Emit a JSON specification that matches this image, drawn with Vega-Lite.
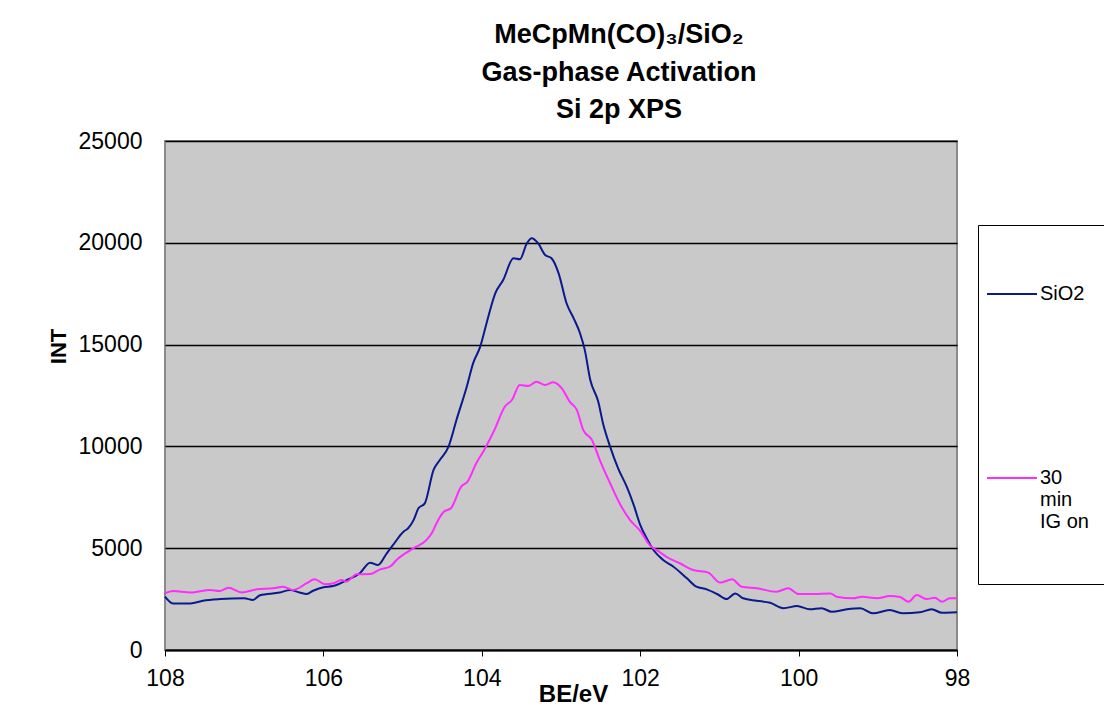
{
  "$schema": "https://vega.github.io/schema/vega-lite/v6.json",
  "width": 792,
  "height": 509,
  "autosize": "none",
  "padding": {"left": 165, "top": 141, "right": 147, "bottom": 57},
  "background": "white",
  "config": {
    "font": "Liberation Sans",
    "view": {"fill": "#c9c9c9", "stroke": "#8a8a8a", "strokeWidth": 2}
  },
  "title": {
    "text": ["MeCpMn(CO)₃/SiO₂", "Gas-phase Activation", "Si 2p XPS"],
    "font": "Liberation Sans",
    "fontSize": 27,
    "fontWeight": "bold",
    "color": "black",
    "lineHeight": 37.5,
    "anchor": "middle",
    "frame": "group",
    "dx": 58,
    "offset": 6
  },
  "data": {
    "values": [
      {"series": "SiO2", "BE": 108.0, "INT": 2620},
      {"series": "SiO2", "BE": 107.9, "INT": 2290},
      {"series": "SiO2", "BE": 107.68, "INT": 2290},
      {"series": "SiO2", "BE": 107.52, "INT": 2420},
      {"series": "SiO2", "BE": 107.3, "INT": 2500},
      {"series": "SiO2", "BE": 107.0, "INT": 2540},
      {"series": "SiO2", "BE": 106.89, "INT": 2460},
      {"series": "SiO2", "BE": 106.8, "INT": 2690},
      {"series": "SiO2", "BE": 106.55, "INT": 2820},
      {"series": "SiO2", "BE": 106.42, "INT": 2950},
      {"series": "SiO2", "BE": 106.3, "INT": 2820},
      {"series": "SiO2", "BE": 106.21, "INT": 2750},
      {"series": "SiO2", "BE": 106.13, "INT": 2910},
      {"series": "SiO2", "BE": 106.0, "INT": 3080},
      {"series": "SiO2", "BE": 105.88, "INT": 3140},
      {"series": "SiO2", "BE": 105.7, "INT": 3440},
      {"series": "SiO2", "BE": 105.54, "INT": 3770},
      {"series": "SiO2", "BE": 105.41, "INT": 4290},
      {"series": "SiO2", "BE": 105.31, "INT": 4175},
      {"series": "SiO2", "BE": 105.2, "INT": 4750},
      {"series": "SiO2", "BE": 105.12, "INT": 5160},
      {"series": "SiO2", "BE": 104.99, "INT": 5810},
      {"series": "SiO2", "BE": 104.93, "INT": 5980},
      {"series": "SiO2", "BE": 104.86, "INT": 6390},
      {"series": "SiO2", "BE": 104.8, "INT": 6960},
      {"series": "SiO2", "BE": 104.72, "INT": 7200},
      {"series": "SiO2", "BE": 104.61, "INT": 8840},
      {"series": "SiO2", "BE": 104.53, "INT": 9330},
      {"series": "SiO2", "BE": 104.42, "INT": 9990},
      {"series": "SiO2", "BE": 104.32, "INT": 11300},
      {"series": "SiO2", "BE": 104.19, "INT": 12930},
      {"series": "SiO2", "BE": 104.11, "INT": 14080},
      {"series": "SiO2", "BE": 104.02, "INT": 14900},
      {"series": "SiO2", "BE": 103.94, "INT": 16050},
      {"series": "SiO2", "BE": 103.83, "INT": 17520},
      {"series": "SiO2", "BE": 103.73, "INT": 18170},
      {"series": "SiO2", "BE": 103.6, "INT": 19240},
      {"series": "SiO2", "BE": 103.52, "INT": 19190},
      {"series": "SiO2", "BE": 103.43, "INT": 19980},
      {"series": "SiO2", "BE": 103.37, "INT": 20220},
      {"series": "SiO2", "BE": 103.29, "INT": 19980},
      {"series": "SiO2", "BE": 103.2, "INT": 19400},
      {"series": "SiO2", "BE": 103.12, "INT": 19240},
      {"series": "SiO2", "BE": 103.03, "INT": 18500},
      {"series": "SiO2", "BE": 102.93, "INT": 17030},
      {"series": "SiO2", "BE": 102.84, "INT": 16290},
      {"series": "SiO2", "BE": 102.76, "INT": 15560},
      {"series": "SiO2", "BE": 102.7, "INT": 14740},
      {"series": "SiO2", "BE": 102.63, "INT": 13260},
      {"series": "SiO2", "BE": 102.53, "INT": 12200},
      {"series": "SiO2", "BE": 102.47, "INT": 11140},
      {"series": "SiO2", "BE": 102.38, "INT": 9990},
      {"series": "SiO2", "BE": 102.28, "INT": 8930},
      {"series": "SiO2", "BE": 102.17, "INT": 8020},
      {"series": "SiO2", "BE": 102.08, "INT": 7100},
      {"series": "SiO2", "BE": 102.0, "INT": 6150},
      {"series": "SiO2", "BE": 101.92, "INT": 5500},
      {"series": "SiO2", "BE": 101.83, "INT": 4900},
      {"series": "SiO2", "BE": 101.71, "INT": 4420},
      {"series": "SiO2", "BE": 101.58, "INT": 4090},
      {"series": "SiO2", "BE": 101.41, "INT": 3520},
      {"series": "SiO2", "BE": 101.29, "INT": 3110},
      {"series": "SiO2", "BE": 101.16, "INT": 2980},
      {"series": "SiO2", "BE": 101.03, "INT": 2750},
      {"series": "SiO2", "BE": 100.91, "INT": 2500},
      {"series": "SiO2", "BE": 100.8, "INT": 2780},
      {"series": "SiO2", "BE": 100.7, "INT": 2540},
      {"series": "SiO2", "BE": 100.53, "INT": 2420},
      {"series": "SiO2", "BE": 100.36, "INT": 2320},
      {"series": "SiO2", "BE": 100.19, "INT": 2050},
      {"series": "SiO2", "BE": 100.02, "INT": 2160},
      {"series": "SiO2", "BE": 99.86, "INT": 2000},
      {"series": "SiO2", "BE": 99.71, "INT": 2050},
      {"series": "SiO2", "BE": 99.58, "INT": 1880},
      {"series": "SiO2", "BE": 99.39, "INT": 2000},
      {"series": "SiO2", "BE": 99.22, "INT": 2050},
      {"series": "SiO2", "BE": 99.06, "INT": 1800},
      {"series": "SiO2", "BE": 98.85, "INT": 1960},
      {"series": "SiO2", "BE": 98.68, "INT": 1800},
      {"series": "SiO2", "BE": 98.47, "INT": 1850},
      {"series": "SiO2", "BE": 98.32, "INT": 2000},
      {"series": "SiO2", "BE": 98.19, "INT": 1830},
      {"series": "SiO2", "BE": 98.0, "INT": 1850},
      {"series": "30 min IG on", "BE": 108.0, "INT": 2780},
      {"series": "30 min IG on", "BE": 107.9, "INT": 2900},
      {"series": "30 min IG on", "BE": 107.68, "INT": 2830},
      {"series": "30 min IG on", "BE": 107.43, "INT": 2950},
      {"series": "30 min IG on", "BE": 107.31, "INT": 2900},
      {"series": "30 min IG on", "BE": 107.2, "INT": 3060},
      {"series": "30 min IG on", "BE": 107.03, "INT": 2830},
      {"series": "30 min IG on", "BE": 106.84, "INT": 2980},
      {"series": "30 min IG on", "BE": 106.63, "INT": 3030},
      {"series": "30 min IG on", "BE": 106.51, "INT": 3110},
      {"series": "30 min IG on", "BE": 106.38, "INT": 2950},
      {"series": "30 min IG on", "BE": 106.21, "INT": 3280},
      {"series": "30 min IG on", "BE": 106.11, "INT": 3470},
      {"series": "30 min IG on", "BE": 105.98, "INT": 3230},
      {"series": "30 min IG on", "BE": 105.87, "INT": 3280},
      {"series": "30 min IG on", "BE": 105.77, "INT": 3440},
      {"series": "30 min IG on", "BE": 105.71, "INT": 3360},
      {"series": "30 min IG on", "BE": 105.58, "INT": 3720},
      {"series": "30 min IG on", "BE": 105.41, "INT": 3730},
      {"series": "30 min IG on", "BE": 105.29, "INT": 3950},
      {"series": "30 min IG on", "BE": 105.16, "INT": 4090},
      {"series": "30 min IG on", "BE": 105.07, "INT": 4450},
      {"series": "30 min IG on", "BE": 104.86, "INT": 5000},
      {"series": "30 min IG on", "BE": 104.7, "INT": 5400},
      {"series": "30 min IG on", "BE": 104.63, "INT": 5750},
      {"series": "30 min IG on", "BE": 104.55, "INT": 6390},
      {"series": "30 min IG on", "BE": 104.48, "INT": 6790},
      {"series": "30 min IG on", "BE": 104.39, "INT": 6960},
      {"series": "30 min IG on", "BE": 104.26, "INT": 8020},
      {"series": "30 min IG on", "BE": 104.18, "INT": 8270},
      {"series": "30 min IG on", "BE": 104.07, "INT": 9170},
      {"series": "30 min IG on", "BE": 103.97, "INT": 9820},
      {"series": "30 min IG on", "BE": 103.84, "INT": 10810},
      {"series": "30 min IG on", "BE": 103.71, "INT": 11950},
      {"series": "30 min IG on", "BE": 103.62, "INT": 12280},
      {"series": "30 min IG on", "BE": 103.52, "INT": 13020},
      {"series": "30 min IG on", "BE": 103.41, "INT": 12970},
      {"series": "30 min IG on", "BE": 103.31, "INT": 13180},
      {"series": "30 min IG on", "BE": 103.2, "INT": 13020},
      {"series": "30 min IG on", "BE": 103.1, "INT": 13150},
      {"series": "30 min IG on", "BE": 102.99, "INT": 12850},
      {"series": "30 min IG on", "BE": 102.89, "INT": 12200},
      {"series": "30 min IG on", "BE": 102.8, "INT": 11790},
      {"series": "30 min IG on", "BE": 102.72, "INT": 10810},
      {"series": "30 min IG on", "BE": 102.61, "INT": 10320},
      {"series": "30 min IG on", "BE": 102.51, "INT": 9330},
      {"series": "30 min IG on", "BE": 102.38, "INT": 8190},
      {"series": "30 min IG on", "BE": 102.26, "INT": 7210},
      {"series": "30 min IG on", "BE": 102.13, "INT": 6390},
      {"series": "30 min IG on", "BE": 102.0, "INT": 5850},
      {"series": "30 min IG on", "BE": 101.88, "INT": 5150},
      {"series": "30 min IG on", "BE": 101.75, "INT": 4800},
      {"series": "30 min IG on", "BE": 101.67, "INT": 4580},
      {"series": "30 min IG on", "BE": 101.5, "INT": 4260},
      {"series": "30 min IG on", "BE": 101.33, "INT": 3930},
      {"series": "30 min IG on", "BE": 101.14, "INT": 3800},
      {"series": "30 min IG on", "BE": 100.99, "INT": 3310},
      {"series": "30 min IG on", "BE": 100.84, "INT": 3470},
      {"series": "30 min IG on", "BE": 100.72, "INT": 3110},
      {"series": "30 min IG on", "BE": 100.53, "INT": 3030},
      {"series": "30 min IG on", "BE": 100.28, "INT": 2860},
      {"series": "30 min IG on", "BE": 100.13, "INT": 3030},
      {"series": "30 min IG on", "BE": 100.0, "INT": 2750},
      {"series": "30 min IG on", "BE": 99.81, "INT": 2750},
      {"series": "30 min IG on", "BE": 99.6, "INT": 2780},
      {"series": "30 min IG on", "BE": 99.52, "INT": 2620},
      {"series": "30 min IG on", "BE": 99.31, "INT": 2540},
      {"series": "30 min IG on", "BE": 99.2, "INT": 2620},
      {"series": "30 min IG on", "BE": 99.01, "INT": 2540},
      {"series": "30 min IG on", "BE": 98.85, "INT": 2650},
      {"series": "30 min IG on", "BE": 98.72, "INT": 2600},
      {"series": "30 min IG on", "BE": 98.61, "INT": 2370},
      {"series": "30 min IG on", "BE": 98.51, "INT": 2700},
      {"series": "30 min IG on", "BE": 98.38, "INT": 2500},
      {"series": "30 min IG on", "BE": 98.28, "INT": 2570},
      {"series": "30 min IG on", "BE": 98.19, "INT": 2370},
      {"series": "30 min IG on", "BE": 98.09, "INT": 2540},
      {"series": "30 min IG on", "BE": 98.0, "INT": 2540}
    ]
  },
  "mark": {"type": "line", "strokeWidth": 2, "interpolate": "monotone"},
  "encoding": {
    "x": {
      "field": "BE",
      "type": "quantitative",
      "scale": {"domain": [98, 108], "reverse": true, "nice": false, "zero": false},
      "axis": {
        "values": [108, 106, 104, 102, 100, 98],
        "format": "d",
        "title": "BE/eV",
        "grid": false,
        "domainColor": "black",
        "domainWidth": 2,
        "tickColor": "black",
        "tickSize": 6,
        "labelFont": "Liberation Sans",
        "labelFontSize": 23,
        "labelColor": "black",
        "labelPadding": 11,
        "labelFlush": false,
        "titleFont": "Liberation Sans",
        "titleFontSize": 24,
        "titleFontWeight": "bold",
        "titleColor": "black",
        "titleX": 408,
        "titleY": 51,
        "titleAlign": "center",
        "titleBaseline": "alphabetic"
      }
    },
    "y": {
      "field": "INT",
      "type": "quantitative",
      "scale": {"domain": [0, 25000], "nice": false},
      "axis": {
        "values": [0, 5000, 10000, 15000, 20000, 25000],
        "format": "d",
        "title": "INT",
        "grid": true,
        "gridColor": "black",
        "gridOpacity": 1,
        "gridWidth": 1.5,
        "domain": false,
        "ticks": false,
        "labelFont": "Liberation Sans",
        "labelFontSize": 23,
        "labelColor": "black",
        "labelPadding": 23,
        "titleFont": "Liberation Sans",
        "titleFontSize": 22,
        "titleFontWeight": "bold",
        "titleColor": "black",
        "titleAngle": -90,
        "titleX": -100,
        "titleY": 205,
        "titleAlign": "center",
        "titleBaseline": "alphabetic"
      }
    },
    "color": {
      "field": "series",
      "type": "nominal",
      "sort": ["SiO2", "30 min IG on"],
      "scale": {"domain": ["SiO2", "30 min IG on"], "range": ["#0a1a8c", "#ff2bff"]},
      "legend": {
        "orient": "none",
        "legendX": 813,
        "legendY": 84,
        "title": " ",
        "titleFontSize": 20,
        "titlePadding": 15,
        "symbolType": "stroke",
        "symbolSize": 2500,
        "symbolStrokeWidth": 2,
        "labelFont": "Liberation Sans",
        "labelFontSize": 20,
        "labelColor": "black",
        "labelOffset": 2,
        "labelExpr": "datum.label == '30 min IG on' ? ['30', 'min', 'IG on\u2800', '', ''] : datum.label",
        "strokeColor": "black",
        "fillColor": "white",
        "padding": 8,
        "rowPadding": 148
      }
    }
  }
}
